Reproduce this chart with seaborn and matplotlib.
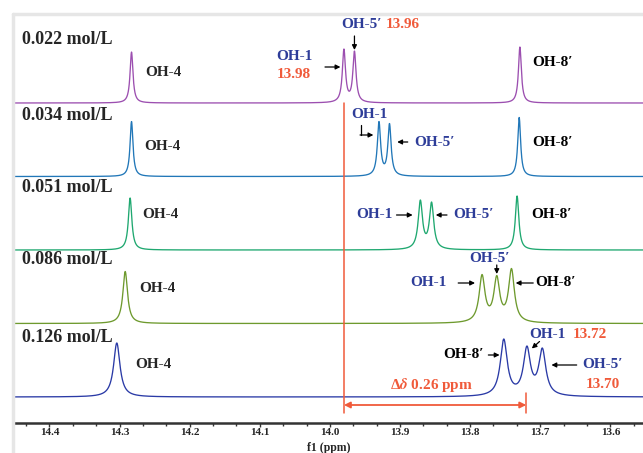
"""Stacked 1H NMR spectra (OH region) at five concentrations."""

import matplotlib.pyplot as plt
import numpy as np
import pandas as pd
import seaborn as sns
from matplotlib.lines import Line2D
from matplotlib.ticker import MultipleLocator

CONCS = ["0.022 mol/L", "0.034 mol/L", "0.051 mol/L", "0.086 mol/L", "0.126 mol/L"]
PEAK_NAMES = ["OH-4", "OH-1", "OH-5′", "OH-8′"]

# peak positions (ppm), heights (px above baseline), half widths (ppm)
SHIFTS_022 = [14.283, 13.980, 13.965, 13.729]
SHIFTS_034 = [14.283, 13.930, 13.915, 13.730]
SHIFTS_051 = [14.285, 13.871, 13.855, 13.733]
SHIFTS_086 = [14.292, 13.783, 13.762, 13.741]
SHIFTS_126 = [14.304, 13.719, 13.697, 13.752]

HEIGHTS_022 = [51, 54, 52, 56]
HEIGHTS_034 = [55, 55, 53, 59]
HEIGHTS_051 = [52, 50, 48, 54]
HEIGHTS_086 = [52, 49, 48, 55]
HEIGHTS_126 = [54, 51, 49, 58]

WIDTHS_022 = [0.0025, 0.0027, 0.0027, 0.0025]
WIDTHS_034 = [0.0025, 0.0028, 0.0028, 0.0025]
WIDTHS_051 = [0.0030, 0.0037, 0.0037, 0.0030]
WIDTHS_086 = [0.0040, 0.0050, 0.0050, 0.0050]
WIDTHS_126 = [0.0055, 0.0060, 0.0060, 0.0060]

TICKS = [14.4, 14.3, 14.2, 14.1, 14.0, 13.9, 13.8, 13.7, 13.6]
TICK_LABELS = ["14.4", "14.3", "14.2", "14.1", "14.0", "13.9", "13.8", "13.7", "13.6"]

COLORS = ["#9c4fb0", "#2177b8", "#1fa870", "#6e9a2e", "#2a3aa6"]
OFFSETS = [320, 246.5, 173, 99.5, 26]
LBLUE = "#2e3d99"
RED = "#f05a3a"


def lorentz(x, x0, g):
    return g**2 / ((x - x0) ** 2 + g**2)


def spectrum(x, shifts, heights, widths):
    # amplitudes chosen so the summed curve hits the read peak heights
    m = np.array([[lorentz(s_i, s_j, w_j) for s_j, w_j in zip(shifts, widths)]
                  for s_i in shifts])
    amps = np.linalg.solve(m, heights)
    return sum(a * lorentz(x, s, w) for a, s, w in zip(amps, shifts, widths))


def main() -> None:
    sns.set_theme(style="white")
    plt.rcParams["font.family"] = ["Liberation Serif", "DejaVu Serif"]
    plt.rcParams["font.weight"] = "bold"
    plt.rcParams["mathtext.fontset"] = "stix"

    x = np.linspace(14.46, 13.54, 4000)
    specs = [
        (SHIFTS_022, HEIGHTS_022, WIDTHS_022),
        (SHIFTS_034, HEIGHTS_034, WIDTHS_034),
        (SHIFTS_051, HEIGHTS_051, WIDTHS_051),
        (SHIFTS_086, HEIGHTS_086, WIDTHS_086),
        (SHIFTS_126, HEIGHTS_126, WIDTHS_126),
    ]
    frames = []
    for conc, off, (s, h, w) in zip(CONCS, OFFSETS, specs):
        frames.append(pd.DataFrame({"ppm": x, "y": off + spectrum(x, s, h, w), "conc": conc}))
    df = pd.concat(frames, ignore_index=True)

    fig = plt.figure(figsize=(6.43, 4.53), dpi=100)
    ax = fig.add_axes([15 / 643, 30 / 453, 628 / 643, 408 / 453])
    sns.lineplot(data=df, x="ppm", y="y", hue="conc", palette=COLORS,
                 estimator=None, sort=False, legend=False, lw=0.95, ax=ax)

    ax.set_xlim(14.4492, 13.5534)
    ax.set_ylim(0, 408)
    ax.set_xticks(TICKS)
    ax.set_xticklabels(TICK_LABELS, fontsize=8, fontweight="bold")
    ax.xaxis.set_minor_locator(MultipleLocator(0.1 / 3))
    ax.tick_params(axis="x", which="major", direction="out", length=3, width=1,
                   color="#333333", pad=0.5, bottom=True)
    ax.tick_params(axis="x", which="minor", direction="out", length=2, width=1,
                   color="#333333", bottom=True)
    ax.set_yticks([])
    ax.set_ylabel("")
    ax.set_xlabel("f1 (ppm)", fontsize=8.5, fontweight="bold")
    ax.xaxis.set_label_coords(0.5, -25 / 408)
    ax.xaxis.label.set_va("center")
    for side in ["top", "left", "right"]:
        ax.spines[side].set_visible(False)
    ax.spines["bottom"].set_linewidth(1.8)
    ax.spines["bottom"].set_color("#333333")

    # concentration labels and OH-4 labels
    conc_y = [384, 308, 235, 163, 86]
    oh4_pos = [(14.264, 351), (14.265, 276), (14.268, 208), (14.272, 135), (14.278, 58)]
    for lab, cy, (ox, oy) in zip(CONCS, conc_y, oh4_pos):
        ax.text(14.439, cy, lab, fontsize=13, fontweight="bold", ha="left", va="center")
        ax.text(ox, oy, "OH-4", fontsize=11, fontweight="bold", ha="left", va="center")

    kw = dict(fontsize=11, fontweight="bold", va="center")
    arr = dict(arrowstyle="-|>", color="black", lw=0.9, mutation_scale=7,
               shrinkA=0, shrinkB=0)

    def arrow(x0, y0, x1, y1, props=arr):
        ax.annotate("", xy=(x1, y1), xytext=(x0, y0), arrowprops=props)

    # 0.022
    ax.text(14.051, 367, "OH-1", color=LBLUE, ha="center", **kw)
    ax.text(14.051, 348, "13.98", color=RED, ha="center", **kw)
    arrow(14.007, 356, 13.985, 356)
    ax.text(13.926, 398, "OH-5′", color=LBLUE, ha="right", **kw)
    ax.text(13.920, 398, "13.96", color=RED, ha="left", **kw)
    arrow(13.965, 387, 13.965, 373)
    ax.text(13.711, 360, "OH-8′", color="black", ha="left", **kw)

    # 0.034
    ax.text(13.969, 308, "OH-1", color=LBLUE, ha="left", **kw)
    ax.plot([13.956, 13.956], [298, 288], color="black", lw=0.9)
    arrow(13.957, 288, 13.938, 288)
    arrow(13.889, 281, 13.904, 281)
    ax.text(13.879, 281, "OH-5′", color=LBLUE, ha="left", **kw)
    ax.text(13.711, 281, "OH-8′", color="black", ha="left", **kw)

    # 0.051
    ax.text(13.937, 208, "OH-1", color=LBLUE, ha="center", **kw)
    arrow(13.905, 208, 13.882, 208)
    arrow(13.833, 208, 13.849, 208)
    ax.text(13.824, 208, "OH-5′", color=LBLUE, ha="left", **kw)
    ax.text(13.713, 208, "OH-8′", color="black", ha="left", **kw)

    # 0.086
    ax.text(13.886, 140, "OH-1", color=LBLUE, ha="left", **kw)
    arrow(13.817, 140, 13.793, 140)
    ax.text(13.772, 164, "OH-5′", color=LBLUE, ha="center", **kw)
    arrow(13.762, 158, 13.762, 149)
    arrow(13.710, 140, 13.735, 140)
    ax.text(13.707, 140, "OH-8′", color="black", ha="left", **kw)

    # 0.126
    ax.text(13.838, 68, "OH-8′", color="black", ha="left", **kw)
    arrow(13.774, 68, 13.758, 68)
    ax.text(13.716, 88, "OH-1", color=LBLUE, ha="left", **kw)
    ax.text(13.653, 88, "13.72", color=RED, ha="left", **kw)
    arrow(13.701, 81.5, 13.712, 74.5)
    arrow(13.648, 58, 13.684, 58)
    ax.text(13.640, 58, "OH-5′", color=LBLUE, ha="left", **kw)
    ax.text(13.635, 38, "13.70", color=RED, ha="left", **kw)
    ax.text(13.914, 38, r"Δ$\delta$ 0.26 ppm", color=RED, ha="left", **kw)

    # shift markers
    ax.plot([13.98, 13.98], [320, 10], color=RED, lw=1.1)
    ax.plot([13.72, 13.72], [30, 10], color=RED, lw=1.1)
    ax.annotate("", xy=(13.72, 18), xytext=(13.98, 18),
                arrowprops=dict(arrowstyle="<|-|>", color=RED, lw=1.3,
                                mutation_scale=9, shrinkA=0, shrinkB=0))

    # light frame from the screenshot
    fig.add_artist(Line2D([13 / 643, 13 / 643], [0, 439 / 453], color="#e6e6e6", lw=2.5))
    fig.add_artist(Line2D([13 / 643, 1], [439 / 453, 439 / 453], color="#e6e6e6", lw=2.5))

    fig.savefig("out.png", dpi=100)
    plt.close(fig)


if __name__ == "__main__":
    main()
